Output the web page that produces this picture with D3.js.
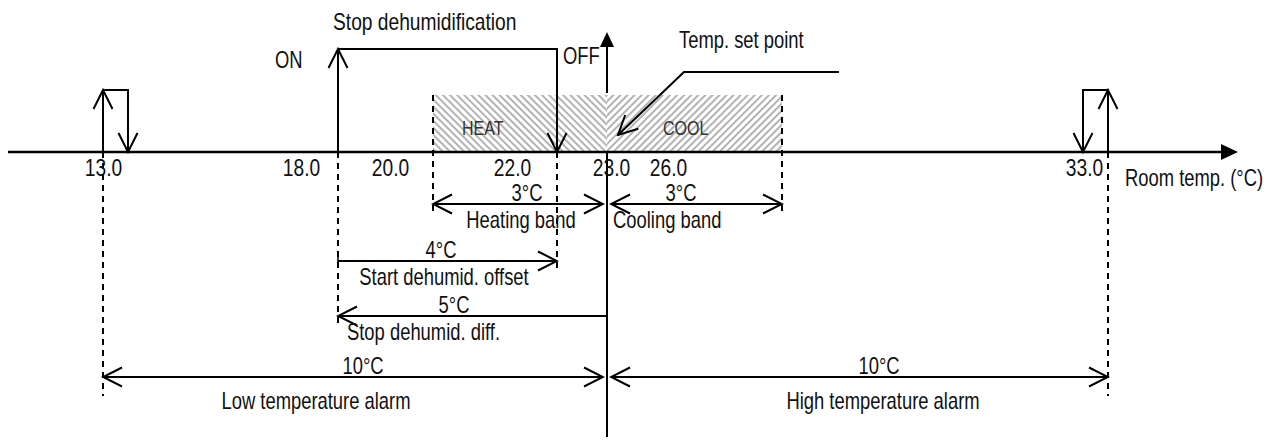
<!DOCTYPE html>
<html>
<head>
<meta charset="utf-8">
<script src="https://cdn.jsdelivr.net/npm/d3@7"></script>
<style>
	body { margin: 0; background: #fff; }
	text { font-family: "Liberation Sans", Arial, sans-serif; fill: #111; }
</style>
</head>
<body>
<div id="chart"></div>
<script>
// values (all in °C)
var tickValues = [13, 18, 20, 22, 23, 26, 33];
var tickLabels = ['13.0', '18.0', '20.0', '22.0', '23.0', '26.0', '33.0'];
var setPoint = 23;
var heatBand = 3;
var coolBand = 3;
var dehumidOn = 18;
var dehumidOffset = 4;
var stopDehumidDiff = 5;
var alarmDiff = 10;
var bandNames = ['HEAT', 'COOL'];

// dimension arrows: from, to, value text, caption
var dimFrom = [setPoint - heatBand, setPoint, dehumidOn, setPoint, setPoint - alarmDiff, setPoint];
var dimTo = [setPoint, setPoint + coolBand, dehumidOn + dehumidOffset, setPoint - stopDehumidDiff, setPoint, setPoint + alarmDiff];
var dimValues = [heatBand + '°C', coolBand + '°C', dehumidOffset + '°C', stopDehumidDiff + '°C', alarmDiff + '°C', alarmDiff + '°C'];
var dimNames = ['Heating band', 'Cooling band', 'Start dehumid. offset', 'Stop dehumid. diff.', 'Low temperature alarm', 'High temperature alarm'];

var width = 1285;
var height = 444;
var axisY = 152;
var squeeze = 0.8; // condensed look

// schematic (piecewise) temperature scale
var x = d3.scaleLinear()
	.domain(tickValues)
	.range([103, 338, 433, 557, 607, 782, 1108]);

var svg = d3.select('#chart').append('svg')
	.attr('width', width)
	.attr('height', height);

var defs = svg.append('defs');

// narrow text helper
function label(px, py, txt, size, anchor, color) {
	return svg.append('text')
		.attr('transform', 'translate(' + px + ',' + py + ') scale(' + squeeze + ',1)')
		.attr('dy', '0.35em')
		.attr('text-anchor', anchor || 'start')
		.style('font-size', size + 'px')
		.style('fill', color || '#111')
		.text(txt);
}

// open chevron arrow heads
defs.append('marker')
	.attr('id', 'open')
	.attr('markerUnits', 'userSpaceOnUse')
	.attr('viewBox', '-22 -12 24 24')
	.attr('markerWidth', 24).attr('markerHeight', 24)
	.attr('refX', 0).attr('refY', 0)
	.attr('orient', 'auto-start-reverse')
	.append('path')
	.attr('d', 'M-19,-9.5L0,0L-19,9.5')
	.attr('fill', 'none').attr('stroke', '#000').attr('stroke-width', 2);

defs.append('marker')
	.attr('id', 'tick')
	.attr('markerUnits', 'userSpaceOnUse')
	.attr('viewBox', '-3 -6 6 12')
	.attr('markerWidth', 6).attr('markerHeight', 12)
	.attr('orient', 'auto')
	.append('path')
	.attr('d', 'M0,-5L0,5')
	.attr('stroke', '#000').attr('stroke-width', 1.5);

// hatch patterns
function hatch(id, angle) {
	var p = defs.append('pattern')
		.attr('id', id)
		.attr('patternUnits', 'userSpaceOnUse')
		.attr('width', 5).attr('height', 5)
		.attr('patternTransform', 'rotate(' + angle + ')');
	p.append('rect').attr('width', 5).attr('height', 5).attr('fill', '#fff');
	p.append('line')
		.attr('x1', 1).attr('y1', 0).attr('x2', 1).attr('y2', 5)
		.attr('stroke', '#b3b3b3').attr('stroke-width', 2);
}
hatch('hatchHeat', -45);
hatch('hatchCool', 45);

var bandTop = 95;
var bandEdges = [[setPoint - heatBand, setPoint], [setPoint, setPoint + coolBand]];

svg.selectAll('rect.band')
	.data(bandEdges)
	.enter().append('rect')
	.attr('class', 'band')
	.attr('x', function(d) { return x(d[0]); })
	.attr('y', bandTop)
	.attr('width', function(d) { return x(d[1]) - x(d[0]); })
	.attr('height', axisY - bandTop)
	.attr('fill', function(d, i) { return i == 0 ? 'url(#hatchHeat)' : 'url(#hatchCool)'; });

bandNames.forEach(function(d, i) {
	label(x(bandEdges[i][0]) + (i == 0 ? 29 : 56), 128, d, 20, 'start', '#333');
});

// dashed guide lines
var guides = [
	{v: setPoint - alarmDiff, y1: axisY, y2: 396},
	{v: dehumidOn, y1: axisY, y2: 323},
	{v: setPoint - heatBand, y1: bandTop, y2: 212},
	{v: dehumidOn + dehumidOffset, y1: axisY, y2: 268},
	{v: setPoint + coolBand, y1: bandTop, y2: 212},
	{v: setPoint + alarmDiff, y1: axisY, y2: 396}
];
svg.selectAll('line.guide')
	.data(guides)
	.enter().append('line')
	.attr('class', 'guide')
	.attr('x1', function(d) { return x(d.v); })
	.attr('x2', function(d) { return x(d.v); })
	.attr('y1', function(d) { return d.y1; })
	.attr('y2', function(d) { return d.y2; })
	.attr('stroke', '#000')
	.attr('stroke-width', 2)
	.attr('stroke-dasharray', '6,5');

// set point vertical line
svg.append('line')
	.attr('x1', x(setPoint)).attr('x2', x(setPoint))
	.attr('y1', axisY).attr('y2', 437)
	.attr('stroke', '#000').attr('stroke-width', 2);
svg.append('line')
	.attr('x1', x(setPoint)).attr('x2', x(setPoint))
	.attr('y1', bandTop - 2).attr('y2', 44)
	.attr('stroke', '#000').attr('stroke-width', 2);
svg.append('path')
	.attr('d', 'M' + x(setPoint) + ',32l-7,15l14,0z')
	.attr('fill', '#000');

// horizontal axis
svg.append('line')
	.attr('x1', 8).attr('x2', 1224)
	.attr('y1', axisY).attr('y2', axisY)
	.attr('stroke', '#000').attr('stroke-width', 2.5);
svg.append('path')
	.attr('d', 'M1238,' + axisY + 'l-17,-8l0,16z')
	.attr('fill', '#000');

var labelShift = [0, -37, -43, -45, 4, -114, -24];
var xAxis = d3.axisBottom(x)
	.tickValues(tickValues)
	.tickFormat(function(d, i) { return tickLabels[i]; })
	.tickSize(0);
var axisG = svg.append('g')
	.attr('transform', 'translate(0,' + axisY + ')')
	.call(xAxis);
axisG.select('.domain').remove();
axisG.selectAll('text')
	.attr('x', 0)
	.attr('y', 0)
	.attr('transform', function(d, i) { return 'translate(' + labelShift[i] + ',16) scale(' + squeeze + ',1)'; })
	.attr('dy', '0.35em')
	.style('font-size', '24px')
	.attr('fill', '#111');

label(1125, 178, 'Room temp. (°C)', 23);

// dehumidification hysteresis
var hystTop = 49;
svg.append('path')
	.attr('d', 'M' + x(dehumidOn) + ',' + axisY + 'L' + x(dehumidOn) + ',' + hystTop)
	.attr('fill', 'none').attr('stroke', '#000').attr('stroke-width', 2)
	.attr('marker-end', 'url(#open)');
svg.append('path')
	.attr('d', 'M' + x(dehumidOn) + ',' + hystTop + 'L' + x(dehumidOn + dehumidOffset) + ',' + hystTop + 'L' + x(dehumidOn + dehumidOffset) + ',' + axisY)
	.attr('fill', 'none').attr('stroke', '#000').attr('stroke-width', 2)
	.attr('marker-end', 'url(#open)');
label(275, 60, 'ON', 23);
label(563, 56, 'OFF', 23);
label(333, 22, 'Stop dehumidification', 24);

// alarm relays
var alarmTop = 90;
var relayW = 25;
[[setPoint - alarmDiff, 1], [setPoint + alarmDiff, -1]].forEach(function(a) {
	var x0 = x(a[0]);
	var x1 = x0 + a[1] * relayW;
	svg.append('path')
		.attr('d', 'M' + x0 + ',' + axisY + 'L' + x0 + ',' + alarmTop)
		.attr('fill', 'none').attr('stroke', '#000').attr('stroke-width', 2)
		.attr('marker-end', 'url(#open)');
	svg.append('path')
		.attr('d', 'M' + x0 + ',' + alarmTop + 'L' + x1 + ',' + alarmTop + 'L' + x1 + ',' + axisY)
		.attr('fill', 'none').attr('stroke', '#000').attr('stroke-width', 2)
		.attr('marker-end', 'url(#open)');
});

// set point leader
var tipX = x(setPoint) + 11;
svg.append('path')
	.attr('d', 'M839,72L684,72L' + tipX + ',135')
	.attr('fill', 'none').attr('stroke', '#000').attr('stroke-width', 2)
	.attr('marker-end', 'url(#open)');
label(679, 40, 'Temp. set point', 23);

// dimension arrows
var dimRows = [204, 204, 261, 316, 377, 377];
var gap = 4;
var dimLayout = [
	{both: true, vx: 527, nx: 521, anchor: 'middle'},
	{both: true, vx: 681, nx: 613, anchor: 'start'},
	{both: false, vx: 441, nx: 444, anchor: 'middle'},
	{both: false, vx: 454, nx: 347, anchor: 'start'},
	{both: true, vx: 363, nx: 316, anchor: 'middle', ny: 24},
	{both: true, vx: 879, nx: 883, anchor: 'middle', ny: 24}
];
dimFrom.forEach(function(f, i) {
	var t = dimTo[i];
	var L = dimLayout[i];
	var xa = x(f), xb = x(t);
	var dir = xb > xa ? 1 : -1;
	// keep double arrows clear of the set point line
	if (L.both) {
		if (f == setPoint) xa += gap * dir;
		if (t == setPoint) xb -= gap * dir;
	}
	var y = dimRows[i];
	svg.append('path')
		.attr('d', 'M' + xa + ',' + y + 'L' + xb + ',' + y)
		.attr('fill', 'none').attr('stroke', '#000').attr('stroke-width', 2)
		.attr('marker-start', L.both ? 'url(#open)' : (i == 2 ? 'url(#tick)' : null))
		.attr('marker-end', 'url(#open)');
	label(L.vx, y - 11, dimValues[i], 23, 'middle');
	label(L.nx, y + (L.ny || 16), dimNames[i], 23, L.anchor);
});
</script>
</body>
</html>
